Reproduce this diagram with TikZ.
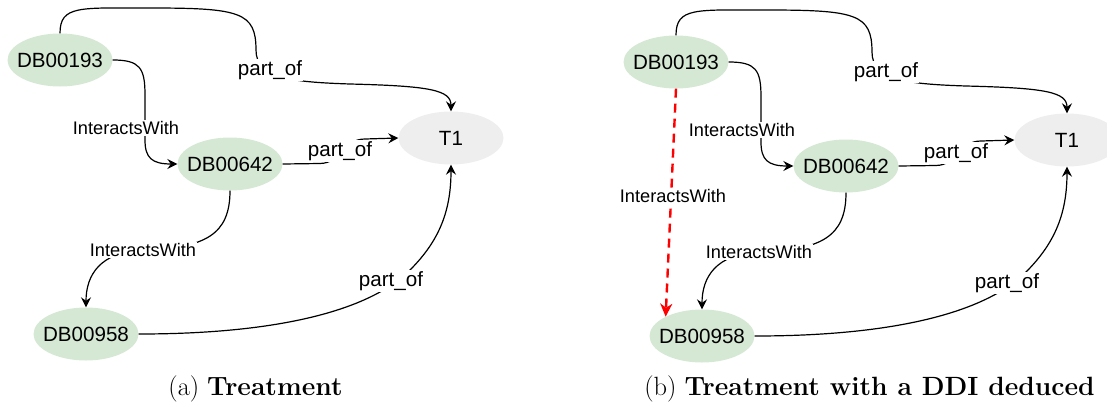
\documentclass[tikz,border=0pt]{standalone}
\usepackage{fontspec}
\newfontfamily\arialf{Liberation Sans}
\usetikzlibrary{shapes.geometric,arrows.meta}
\definecolor{gfill}{HTML}{D5E8D4}
\definecolor{tfill}{HTML}{EEEEEE}
\newcommand\zw[1]{\makebox[0pt]{#1}}
\tikzset{
  gnode/.style={ellipse,fill=gfill,minimum width=105pt,minimum height=53pt,inner sep=0pt,text height=14.8pt,text depth=0pt,font=\arialf\fontsize{20.6}{24}\selectfont},
  tnode/.style={gnode,fill=tfill},
  edge/.style={line width=1.2pt,-{Stealth[length=10pt,width=10pt,inset=3.5pt]}},
  redge/.style={line width=2.4pt,draw=red,dash pattern=on 9pt off 6pt,-{Stealth[length=13pt,width=12pt,inset=4pt,fill=red]}},
  plab/.style={fill=white,inner sep=1pt,font=\arialf\fontsize{20.6}{24}\selectfont},
  ilab/.style={fill=white,inner sep=1pt,font=\arialf\fontsize{18.2}{22}\selectfont},
  capt/.style={font=\fontsize{26.4}{30}\selectfont}
}
\newcommand\drawpanel[1]{%
  \node[gnode] (#1a) at (60,60) {\zw{DB00193}};
  \node[gnode] (#1b) at (230,164) {\zw{DB00642}};
  \node[tnode] (#1t) at (451,138) {\zw{T1}};
  \node[gnode] (#1c) at (86,334) {\zw{DB00958}};
  \draw[edge] (#1a.north) .. controls (60,5) and (80,8) .. (150,8) .. controls (240,8) and (256,12) .. (256,50) .. controls (256,78) and (290,82) .. (350,84) .. controls (430,86) and (451,90) .. (#1t.north);
  \node[plab] (#1l1) at (270,70) {part\_of};
  \draw[edge] (#1a.east) .. controls (140,60) and (145,68) .. (145,95) -- (145,140) .. controls (145,158) and (152,164) .. (#1b.west);
  \node[ilab] (#1l2) at (126,128) {InteractsWith};
  \draw[edge] (#1b.east) -- (320,163.5) .. controls (342,163) and (343,139) .. (365,139) -- (#1t.west);
  \node[plab] (#1l3) at (340,151) {part\_of};
  \draw[edge] (#1b.south) .. controls (230,235) and (205,248) .. (143,250) .. controls (100,252) and (86,275) .. (#1c.north);
  \node[ilab] (#1l4) at (143,250) {InteractsWith};
  \draw[edge] (#1c.east) .. controls (280,334) and (370,310) .. (410,270) .. controls (440,240) and (451,210) .. (#1t.south);
  \node[plab] (#1l5) at (391,281) {part\_of};
}
\begin{document}
\begin{tikzpicture}[x=1pt,y=-1pt]
\useasboundingbox (0,0) rectangle (1107,405);
\begin{scope}
  \drawpanel{p}
\end{scope}
\begin{scope}[shift={(616,2)}]
  \drawpanel{q}
  \draw[redge] (qa.south) -- (qc.152);
  \node[ilab] (ql6) at (57,194) {InteractsWith};
\end{scope}
\node[capt] (capa) at (255.5,389) {(a) \textbf{Treatment}};
\node[capt] (capb) at (869.5,389) {(b) \textbf{Treatment with a DDI deduced}};
\end{tikzpicture}
\end{document}
